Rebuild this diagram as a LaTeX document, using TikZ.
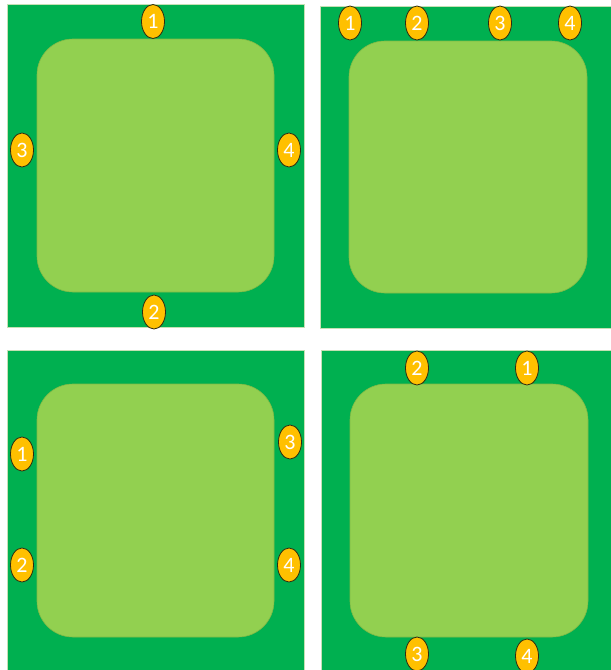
\documentclass[tikz,border=0pt]{standalone}
\usepackage{fontspec}
\setmainfont{Carlito}
\usepackage{tikz}
\usetikzlibrary{shapes.geometric,positioning}
\definecolor{boardgreen}{HTML}{00B050}
\definecolor{boardedge}{HTML}{C5E0B4}
\definecolor{padgreen}{HTML}{92D050}
\definecolor{padedge}{HTML}{7FBA45}
\definecolor{portgold}{HTML}{FFC000}
\definecolor{portedge}{HTML}{2E2A10}

\begin{document}
\begin{tikzpicture}[x=1pt,y=-1pt,
  board/.style={draw=boardedge,fill=boardgreen,line width=0.8pt,inner sep=0pt,outer sep=0pt},
  pad/.style={draw=padedge,fill=padgreen,line width=0.6pt,rounded corners=36pt,inner sep=0pt,outer sep=0pt},
  port/.style={ellipse,draw=portedge,fill=portgold,line width=0.8pt,minimum width=23pt,minimum height=34pt,inner sep=0pt,text=white,font=\fontsize{22}{22}\selectfont}]
\fill[white] (0,0) rectangle (611,670);
\useasboundingbox (0,0) rectangle (611,670);
\node[board,minimum width=297pt,minimum height=323pt] (tl) at (155.5,165.5) {};
\node[pad,minimum width=237pt,minimum height=253pt] (tlpad) at (tl.center) {};
\node[board,minimum width=295pt,minimum height=322pt] (tr) at (467.5,167) {};
\node[pad,minimum width=238pt,minimum height=252pt] (trpad) at (468,167) {};
\node[board,minimum width=297pt,minimum height=335pt] (bl) at (155.5,517.5) {};
\node[pad,minimum width=237pt,minimum height=253pt] (blpad) at (155.5,510.5) {};
\node[board,minimum width=294pt,minimum height=335pt] (br) at (468,517.5) {};
\node[pad,minimum width=238pt,minimum height=253pt] (brpad) at (469,510.5) {};
\node[port] (tl1) at (153,21.5) {1};
\node[port] (tl2) at (154,312) {2};
\node[port] (tl3) at (22,150) {3};
\node[port] (tl4) at (289,150) {4};
\node[port] (tr1) at (350,23) {1};
\node[port] (tr2) at (417,23) {2};
\node[port] (tr3) at (500,23) {3};
\node[port] (tr4) at (570,23) {4};
\node[port] (bl1) at (22,454) {1};
\node[port] (bl2) at (22,565) {2};
\node[port] (bl3) at (290,442) {3};
\node[port] (bl4) at (289,565) {4};
\node[port] (br1) at (527,368) {1};
\node[port] (br2) at (417,368) {2};
\node[port] (br3) at (417,654) {3};
\node[port] (br4) at (527,656) {4};
\end{tikzpicture}
\end{document}
